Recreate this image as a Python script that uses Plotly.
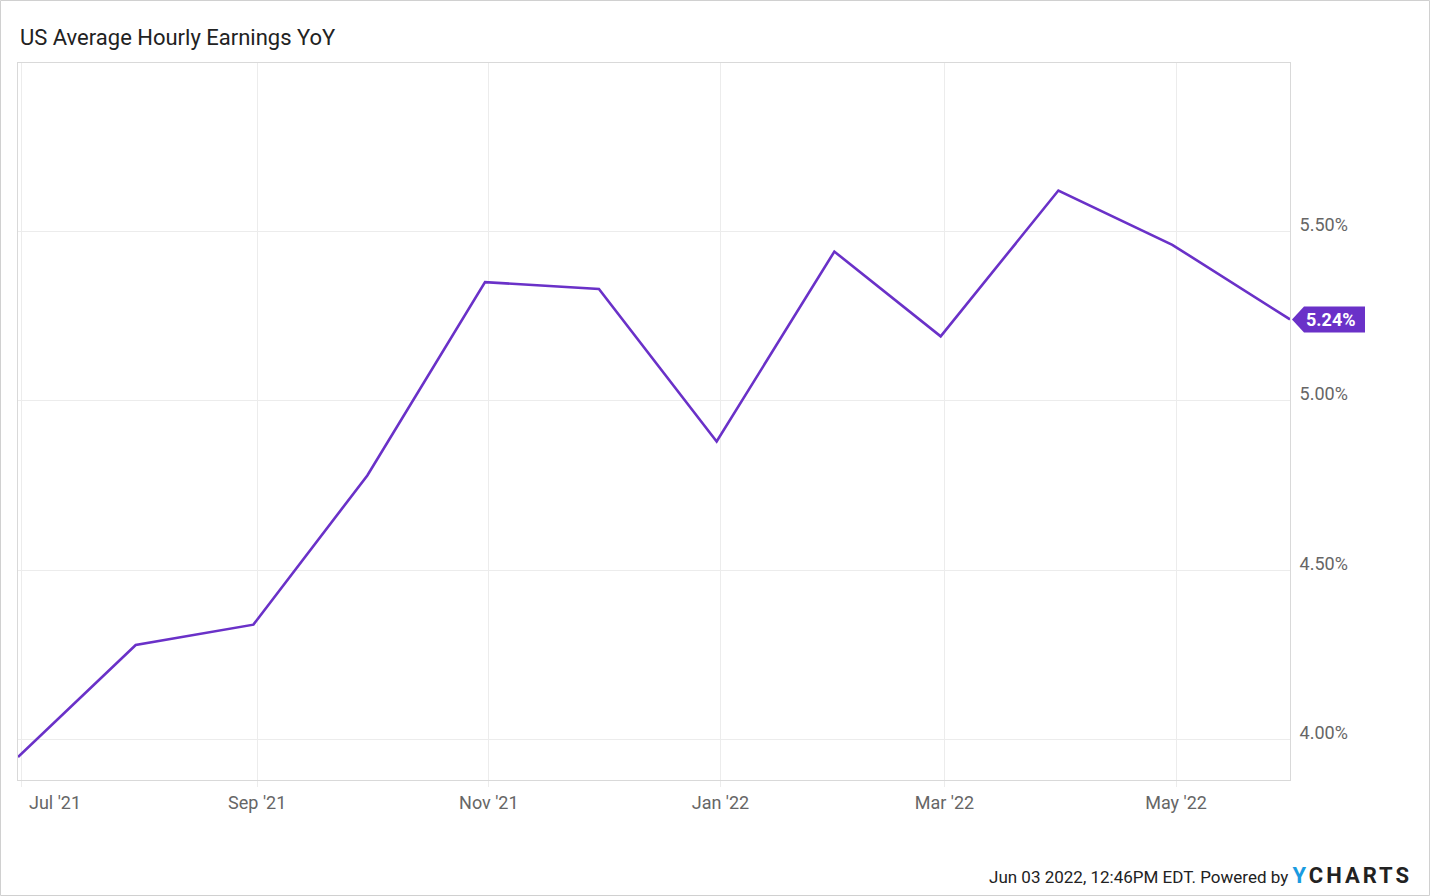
import plotly.graph_objects as go

dates = ["2021-06-30", "2021-07-31", "2021-08-31", "2021-09-30", "2021-10-31", "2021-11-30",
         "2021-12-31", "2022-01-31", "2022-02-28", "2022-03-31", "2022-04-30", "2022-05-31"]
values = [3.95, 4.28, 4.34, 4.78, 5.35, 5.33, 4.88, 5.44, 5.19, 5.62, 5.46, 5.24]

x_tickvals = ["2021-07-01", "2021-09-01", "2021-11-01", "2022-01-01", "2022-03-01", "2022-05-01"]
x_ticktext = ["", "Sep '21", "Nov '21", "Jan '22", "Mar '22", "May '22"]
y_tickvals = [4.0, 4.5, 5.0, 5.5]
y_ticktext = ["4.00%", "4.50%", "5.00%", "5.50%"]

W, H = 1430, 896
ML, MR, MT, MB = 18, 140, 63, 116
PW, PH = W - ML - MR, H - MT - MB
YR = [3.882, 5.996]
PURPLE = "#6a31c8"

fig = go.Figure()
fig.add_trace(go.Scatter(x=dates, y=values, mode="lines",
                         line=dict(color=PURPLE, width=2.6), hoverinfo="skip"))

last_y = values[-1]
yp = (last_y - YR[0]) / (YR[1] - YR[0])

shapes = [
    # outer border
    dict(type="rect", xref="paper", yref="paper",
         x0=-(ML - 0.5) / PW, x1=1 + (MR - 0.5) / PW,
         y0=-(MB - 0.5) / PH, y1=1 + (MT - 0.5) / PH,
         line=dict(color="#d0d0d0", width=1)),
    # value tag
    dict(type="path", xref="paper", yref="paper", xsizemode="pixel", ysizemode="pixel",
         xanchor=1, yanchor=yp,
         path="M 2,0 L 14,13 L 75,13 L 75,-13 L 14,-13 Z",
         fillcolor=PURPLE, line=dict(width=0)),
]

annotations = [
    dict(text="US Average Hourly Earnings YoY", xref="paper", yref="paper",
         x=0, y=1 + (MT - 37) / PH, xanchor="left", yanchor="middle", showarrow=False,
         font=dict(family="Roboto", size=22, color="#222")),
    dict(text="Jul '21", xref="paper", yref="paper", x=(55 - ML) / PW, y=-(802 - MT - PH) / PH,
         xanchor="center", yanchor="middle", showarrow=False,
         font=dict(family="Roboto", size=18, color="#666")),
    dict(text=f"<b>{last_y:.2f}%</b>", xref="paper", yref="paper", x=1, y=yp,
         xanchor="left", yanchor="middle", xshift=14, showarrow=False,
         font=dict(family="Roboto", size=18, color="white")),
    dict(text="Jun 03 2022, 12:46PM EDT. Powered by "
              "<b><span style='color:#1a9be0;font-size:22px;letter-spacing:3px'>Y</span>"
              "<span style='font-size:22px;letter-spacing:3px'>CHARTS</span></b>",
         xref="paper", yref="paper", x=1 + (1414 - ML - PW) / PW, y=-(876 - MT - PH) / PH,
         xanchor="right", yanchor="middle", showarrow=False,
         font=dict(family="Roboto", size=17, color="#222")),
]

fig.update_layout(
    width=W, height=H, margin=dict(l=ML, r=MR, t=MT, b=MB),
    paper_bgcolor="white", plot_bgcolor="white", showlegend=False,
    font=dict(family="Roboto", size=18, color="#666"),
    shapes=shapes, annotations=annotations,
    xaxis=dict(type="date", range=["2021-06-30", "2022-05-31"],
               tickvals=x_tickvals, ticktext=x_ticktext,
               showgrid=True, gridcolor="#ececec", gridwidth=1,
               ticks="outside", ticklen=6, tickcolor="#ececec",
               showline=True, linecolor="#d9d9d9", mirror=True,
               tickfont=dict(family="Roboto", size=18, color="#666"),
               zeroline=False),
    yaxis=dict(range=YR, side="right", tickvals=y_tickvals, ticktext=y_ticktext,
               showgrid=True, gridcolor="#ececec", gridwidth=1,
               showline=True, linecolor="#d9d9d9", mirror=True,
               ticks="", ticklabelstandoff=5, ticklabelshift=-7,
               tickfont=dict(family="Roboto", size=18, color="#666"),
               zeroline=False),
)

fig.write_html("out.html", config={"displayModeBar": False},
               post_script="document.body.style.margin='0';")
